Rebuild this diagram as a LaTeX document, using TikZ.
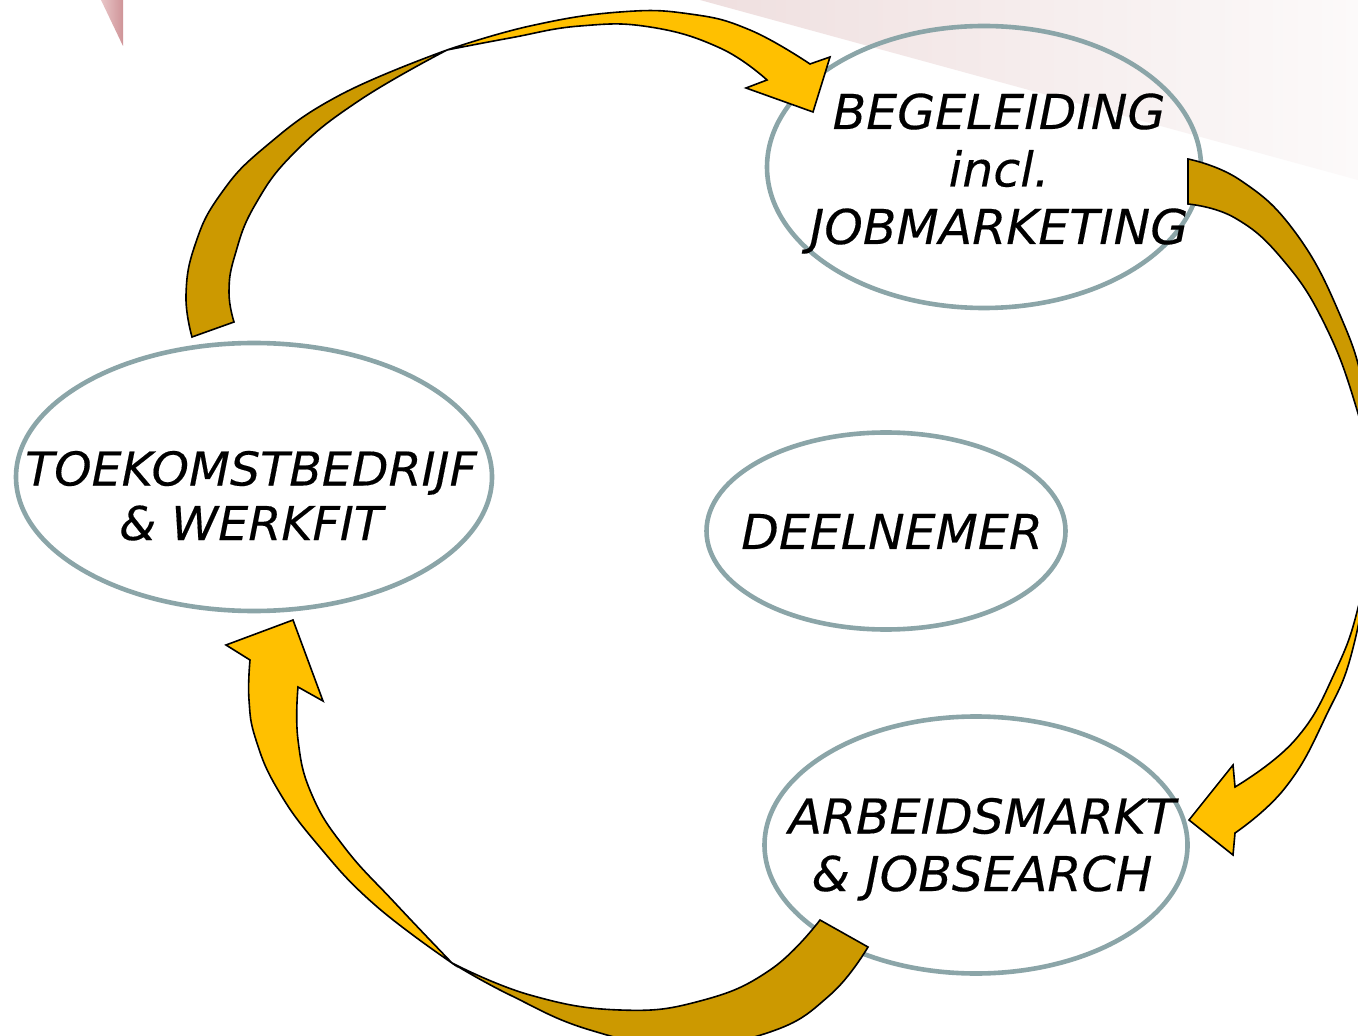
\documentclass[tikz,border=0pt]{standalone}
\usepackage{fontspec}
\usetikzlibrary{shapes.geometric}
\newfontfamily\lblfont[FakeStretch=1.02, FakeBold=0.3]{DejaVu Sans Oblique}
\definecolor{ringcol}{HTML}{8BA5A8}
\definecolor{frontcol}{HTML}{FFC000}
\definecolor{backcol}{HTML}{CC9900}
\definecolor{pinkA}{HTML}{EFDFDF}
\definecolor{pinkB}{HTML}{FCFAFA}
\definecolor{roseA}{HTML}{E9C6C8}
\definecolor{roseB}{HTML}{CF9498}
\begin{document}
\begin{tikzpicture}[x=0.5pt,y=-0.5pt,
  ring/.style={ellipse, draw=ringcol, line width=2.3pt, inner sep=0pt, outer sep=0pt},
  lbl/.style={align=center, anchor=base, inner sep=0pt, font=\lblfont\fontsize{24}{28.75}\selectfont},
  frontface/.style={fill=frontcol, draw=black, line width=0.8pt, line join=miter},
  backface/.style={fill=backcol, draw=black, line width=0.8pt, line join=miter},
  bandcurve/.style={smooth, tension=0.75}]
\useasboundingbox (0,0) rectangle (1358,1036);
\fill[white] (0,0) rectangle (1358,1036);
\begin{scope}
\clip (0,0) rectangle (1358,1036);
% background decoration
\shade[left color=roseA, right color=roseB] (101,0) -- (123,0) -- (123,46) -- cycle;
\shade[left color=pinkA, right color=pinkB] (700,0) -- (1358,0) -- (1358,180) -- cycle;

% ellipses
\node[ring, minimum width=217pt, minimum height=141pt] (begring) at (984,167) {};
\node[ring, minimum width=238pt, minimum height=134pt] (toering) at (254,477) {};
\node[ring, minimum width=179.5pt, minimum height=98.5pt] (deering) at (886,531) {};
\node[ring, minimum width=211.5pt, minimum height=128.5pt] (arbring) at (976,845) {};

% arrow 1 : toekomstbedrijf -> begeleiding
\filldraw[backface] (192,337) -- plot[bandcurve] coordinates {(192,337) (186,295) (195,245) (220,195) (265,147) (340,95) (447,50)} -- plot[bandcurve] coordinates {(447,50) (360,100) (295,152) (255,205) (235,255) (229,292) (234,322)} -- cycle;
\filldraw[frontface] (447,50) -- plot[bandcurve] coordinates {(447,50) (530,26) (620,12) (690,14) (750,30) (810,64)} -- (830,57) -- (813,112) -- (746,88) -- (767,80) -- plot[bandcurve] coordinates {(767,80) (720,48) (650,27) (580,26) (510,38) (447,50)} -- cycle;

% arrow 2 : begeleiding -> arbeidsmarkt
\filldraw[backface] (1188,159) -- (1188,204) -- plot[bandcurve] coordinates {(1188,204) (1235,218) (1283,260) (1325,325) (1357,410) (1378,500)} -- plot[bandcurve] coordinates {(1378,500) (1365,395) (1340,315) (1295,232) (1240,180) (1188,159)} -- cycle;
\filldraw[frontface] (1378,500) -- plot[bandcurve] coordinates {(1378,500) (1360,600) (1335,672) (1295,740) (1235,787)} -- (1233,765) -- (1189,820) -- (1233,855) -- (1235,833) -- plot[bandcurve] coordinates {(1235,833) (1285,788) (1325,718) (1355,640) (1378,500)} -- cycle;

% arrow 3 : arbeidsmarkt -> toekomstbedrijf
\filldraw[backface] (820,920) -- (868,947) -- plot[bandcurve] coordinates {(868,947) (830,995) (770,1032) (680,1046) (590,1030) (510,995) (452,963)} -- plot[bandcurve] coordinates {(452,963) (530,995) (620,1010) (700,1001) (770,970) (820,920)} -- cycle;
\filldraw[frontface] (452,963) -- plot[bandcurve] coordinates {(452,963) (375,905) (318,845) (278,790) (256,740) (249,700) (250,660)} -- (226,645) -- (293,620) -- (323,701) -- (298,687) -- plot[bandcurve] coordinates {(298,687) (298,740) (312,795) (345,848) (395,903) (452,963)} -- cycle;
\end{scope}

% labels (base anchor = baseline of the last line)
\node[lbl] (begtxt) at (999,244) {BEGELEIDING\\incl.\\JOBMARKETING};
\node[lbl, font=\lblfont\fontsize{23.3}{27.25}\selectfont] (toetxt) at (251,540) {TOEKOMSTBEDRIJF\\\& WERKFIT};
\node[lbl] (deetxt) at (892,549) {DEELNEMER};
\node[lbl] (arbtxt) at (982,891) {ARBEIDSMARKT\\\& JOBSEARCH};
\end{tikzpicture}
\end{document}
